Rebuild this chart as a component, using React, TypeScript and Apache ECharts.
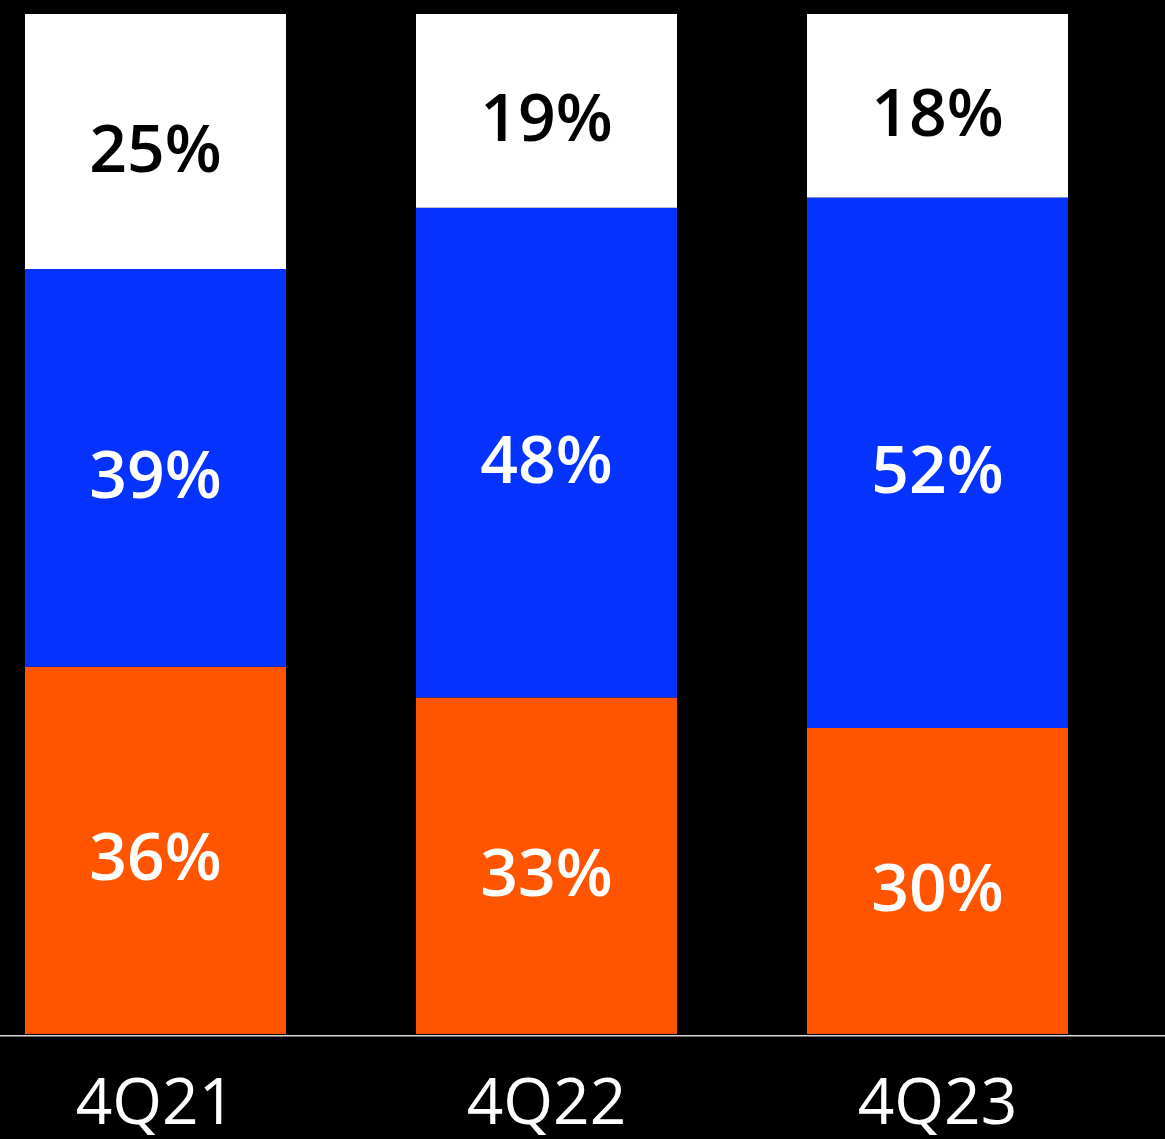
import React, { useEffect, useRef } from "react";
import * as echarts from "echarts";

const categories = ["4Q21", "4Q22", "4Q23"];
const orangeValues = [36, 33, 30];
const blueValues = [39, 48, 52];
const whiteValues = [25, 19, 18];

export default function App() {
  const ref = useRef<HTMLDivElement>(null);
  useEffect(() => {
    const chart = echarts.init(ref.current!, null, { renderer: "svg" });
    const labelBase = {
      show: true,
      position: "inside",
      fontFamily: "Open Sans",
      fontWeight: 600,
      fontSize: 66,
      offset: [0, 4],
      formatter: (p: any) => `${p.value}%`,
    };
    chart.setOption({
      animation: false,
      backgroundColor: "#000000",
      grid: { left: 0, right: 32, top: 14, bottom: 105, containLabel: false },
      xAxis: {
        type: "category",
        data: categories,
        axisLine: { show: false },
        axisTick: { show: false },
        axisLabel: {
          color: "#ffffff",
          fontFamily: "Open Sans",
          fontSize: 64,
          margin: 33,
        },
      },
      yAxis: {
        type: "value",
        min: 0,
        max: 100,
        show: false,
        splitLine: { show: false },
      },
      graphic: [
        {
          type: "rect",
          shape: { x: 40, y: 1035, width: 1165, height: 1.5 },
          style: { fill: "#d9d9d9" },
          z: 10,
        },
      ],
      series: [
        {
          type: "bar",
          stack: "total",
          data: orangeValues,
          barWidth: 261,
          itemStyle: { color: "#FF5500" },
          label: { ...labelBase, color: "#ffffff" },
        },
        {
          type: "bar",
          stack: "total",
          data: blueValues,
          barWidth: 261,
          itemStyle: { color: "#0433FF" },
          label: { ...labelBase, color: "#ffffff" },
        },
        {
          type: "bar",
          stack: "total",
          data: whiteValues,
          barWidth: 261,
          itemStyle: { color: "#ffffff" },
          label: { ...labelBase, color: "#000000" },
        },
      ],
    });
    return () => chart.dispose();
  }, []);
  return (
    <div style={{ position: "absolute", left: 0, top: 0, width: 1165, height: 1139, overflow: "hidden", background: "#000" }}>
      <div
        ref={ref}
        style={{ position: "absolute", left: -40, top: 0, width: 1205, height: 1139 }}
      />
    </div>
  );
}
